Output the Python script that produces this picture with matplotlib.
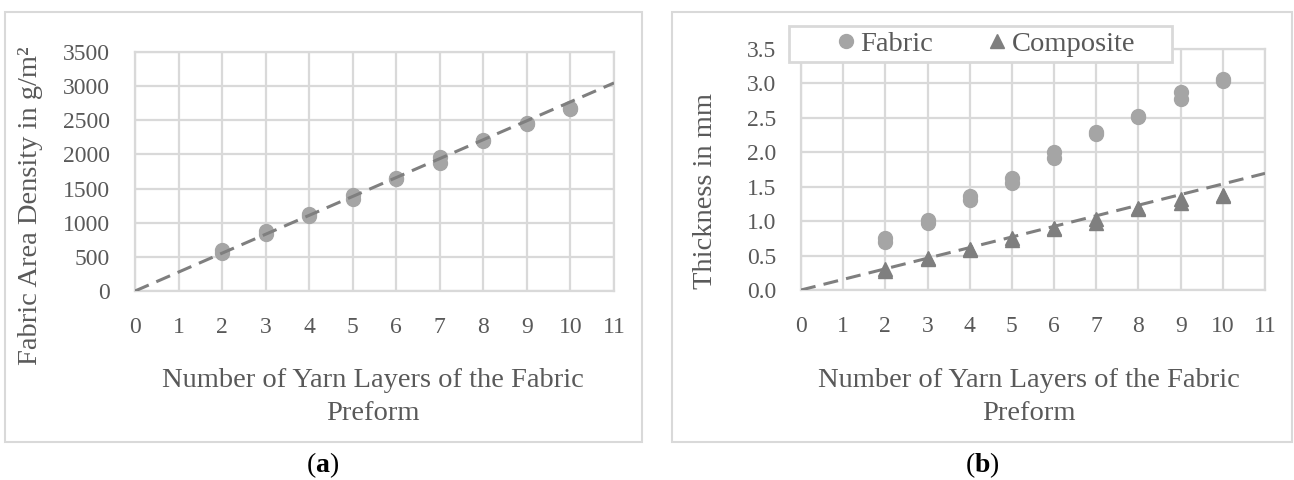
import matplotlib
matplotlib.use("Agg")
import matplotlib.pyplot as plt
from matplotlib.patches import Rectangle
from matplotlib.lines import Line2D
import numpy as np

plt.rcParams['font.family'] = ['Liberation Serif', 'DejaVu Serif']
plt.rcParams['mathtext.fontset'] = 'custom'
plt.rcParams['mathtext.rm'] = 'Liberation Serif'
plt.rcParams['mathtext.bf'] = 'Liberation Serif:bold'

# numero de camadas (duas amostras por preforma)
camadas = [2, 2, 3, 3, 4, 4, 5, 5, 6, 6, 7, 7, 8, 8, 9, 9, 10, 10]
gramatura = [560, 600, 840, 880, 1100, 1130, 1350, 1400, 1640, 1660,
             1880, 1960, 2190, 2210, 2440, 2460, 2670, 2680]
espessura_tecido = [0.70, 0.75, 0.98, 1.02, 1.30, 1.36, 1.55, 1.63, 1.92, 2.00,
                    2.26, 2.30, 2.51, 2.53, 2.77, 2.87, 3.04, 3.06]
espessura_composito = [0.28, 0.30, 0.45, 0.47, 0.58, 0.60, 0.72, 0.75, 0.88, 0.90,
                       0.98, 1.03, 1.17, 1.19, 1.27, 1.32, 1.36, 1.38]

# inclinacao das linhas de tendencia (passam pela origem)
inclinacao_gramatura = 277
inclinacao_composito = 0.154

x_ticks = list(range(0, 12))
y_ticks_a = list(range(0, 3501, 500))
y_ticks_b = [0.0, 0.5, 1.0, 1.5, 2.0, 2.5, 3.0, 3.5]

COR_TEXTO = '#595959'
COR_GRADE = '#d9d9d9'
COR_TECIDO = '#a5a5a5'
COR_COMPOSITO = '#7f7f7f'
COR_TENDENCIA = '#7f7f7f'
TAM_TICK = 17
TAM_TITULO = 20.5

W, H = 1294, 480
fig = plt.figure(figsize=(W / 100, H / 100), dpi=100)


def px(x0, y0, x1, y1):
    # caixa em pixels (origem no topo) -> coordenadas da figura
    return [x0 / W, 1 - y1 / H, (x1 - x0) / W, (y1 - y0) / H]


def estilo_eixo(ax, yticks, fmt):
    ax.set_xlim(0, 11)
    ax.set_ylim(yticks[0], yticks[-1])
    ax.set_xticks(x_ticks)
    ax.set_yticks(yticks)
    ax.set_yticklabels([fmt.format(v) for v in yticks])
    ax.grid(True, color=COR_GRADE, linewidth=1.6, zorder=0)
    ax.set_axisbelow(True)
    for s in ax.spines.values():
        s.set_color(COR_GRADE)
        s.set_linewidth(1.6)
    ax.tick_params(length=0, labelsize=TAM_TICK, labelcolor=COR_TEXTO)
    ax.tick_params(axis='x', pad=19)
    ax.tick_params(axis='y', pad=18)


linha_x = np.array([0, 11])
estilo_tendencia = dict(color=COR_TENDENCIA, linewidth=2.2, linestyle=(0, (4.9, 2.7)), zorder=4)

# (a) gramatura
ax1 = fig.add_axes(px(135, 52, 614, 291))
estilo_eixo(ax1, y_ticks_a, '{:d}')
ax1.plot(camadas, gramatura, 'o', color=COR_TECIDO, markersize=10, zorder=3)
ax1.plot(linha_x, inclinacao_gramatura * linha_x, **estilo_tendencia)

# (b) espessura
ax2 = fig.add_axes(px(801, 49, 1265, 290))
estilo_eixo(ax2, y_ticks_b, '{:.1f}')
ax2.plot(camadas, espessura_tecido, 'o', color=COR_TECIDO, markersize=10, zorder=3)
ax2.plot(camadas, espessura_composito, '^', color=COR_COMPOSITO, markersize=10, zorder=3)
ax2.plot(linha_x, inclinacao_composito * linha_x, **estilo_tendencia)

titulo_x = 'Number of Yarn Layers of the Fabric\nPreform'
fig.text(373 / W, 1 - 397 / H, titulo_x, ha='center', va='center', fontsize=TAM_TITULO,
         color=COR_TEXTO, linespacing=1.37)
fig.text(1029 / W, 1 - 397 / H, titulo_x, ha='center', va='center', fontsize=TAM_TITULO,
         color=COR_TEXTO, linespacing=1.37)
fig.text(31 / W, 1 - 206 / H, 'Fabric Area Density in g/m²', rotation=90,
         ha='center', va='center', fontsize=TAM_TITULO, color=COR_TEXTO)
fig.text(706 / W, 1 - 191 / H, 'Thickness in mm', rotation=90,
         ha='center', va='center', fontsize=TAM_TITULO, color=COR_TEXTO)

# molduras das areas de grafico
for caixa in [(5, 12, 642, 442), (672, 12, 1292, 442)]:
    x0, y0, w, h = px(*caixa)
    fig.patches.append(Rectangle((x0, y0), w, h, transform=fig.transFigure,
                                 fill=False, edgecolor=COR_GRADE, linewidth=1.5))

# legenda
x0, y0, w, h = px(789, 26, 1172, 62)
fig.patches.append(Rectangle((x0, y0), w, h, transform=fig.transFigure, facecolor='white',
                             edgecolor=COR_GRADE, linewidth=2, zorder=5))
itens = [Line2D([], [], marker='o', linestyle='none', color=COR_TECIDO, markersize=10),
         Line2D([], [], marker='^', linestyle='none', color=COR_COMPOSITO, markersize=10)]
leg = fig.legend(itens, ['Fabric', 'Composite'], loc='center', ncol=2, frameon=False,
                 bbox_to_anchor=(987 / W, 1 - 44 / H), fontsize=TAM_TITULO,
                 handlelength=0.5, handletextpad=0.25, columnspacing=2.0, labelcolor=COR_TEXTO)
leg.set_zorder(6)

fig.text(323 / W, 1 - 465 / H, r'($\mathbf{a}$)', ha='center', va='center', fontsize=20, color='black')
fig.text(982 / W, 1 - 465 / H, r'($\mathbf{b}$)', ha='center', va='center', fontsize=20, color='black')

fig.savefig('out.png', dpi=100, facecolor='white')
